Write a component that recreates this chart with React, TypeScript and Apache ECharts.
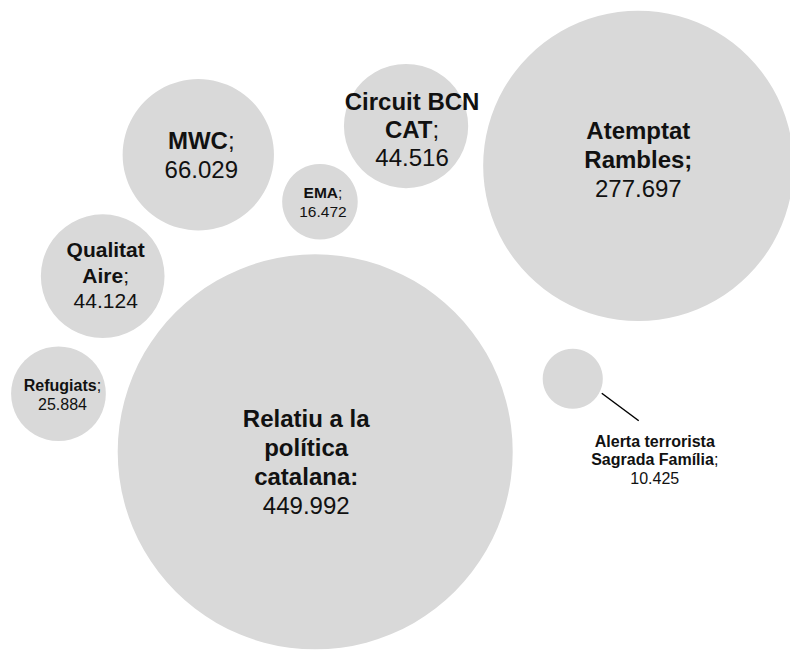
import React, { useEffect, useRef } from "react";
import * as echarts from "echarts";

// Bubble data (x, y position on hidden axes 0-100; value drives bubble area)
const names = [
  "Relatiu a la política catalana",
  "Atemptat Rambles",
  "MWC",
  "Circuit BCN CAT",
  "Qualitat Aire",
  "Refugiats",
  "EMA",
  "Alerta terrorista Sagrada Família",
];
const labelLines = [
  ["Relatiu a la", "política", "catalana:"],
  ["Atemptat", "Rambles;"],
  ["MWC"],
  ["Circuit BCN", "CAT"],
  ["Qualitat", "Aire"],
  ["Refugiats"],
  ["EMA"],
  ["Alerta terrorista", "Sagrada Família"],
];
const values = [449992, 277697, 66029, 44516, 44124, 25884, 16472, 10425];
const xValues = [39.9, 80.8, 25.1, 51.4, 13.0, 7.4, 40.5, 72.5];
const yValues = [30.8, 74.6, 76.3, 80.7, 57.7, 39.7, 69.1, 42.0];

// label styling (not data)
const labelFont = [24, 24, 24, 24, 21, 16, 15.5, 16];
const labelLH = [29, 29, 29, 28, 25.5, 19, 18.7, 18.5];
const labelOffset: [number, number][] = [
  [-9, 10],
  [0, -6],
  [3, 0],
  [6, 3],
  [3, -1],
  [4, 1.5],
  [3, 0],
  [82, 81],
];
// which names carry their own bold punctuation
const sepBoldIncluded = [true, true, false, false, false, false, false, false];

const MAX_DIAMETER = 395;
const maxValue = Math.max(...values);

function fmt(v: number): string {
  return String(v).replace(/\B(?=(\d{3})+(?!\d))/g, ".");
}

export default function App() {
  const ref = useRef<HTMLDivElement>(null);

  useEffect(() => {
    document.body.style.margin = "0";
    if (!ref.current) return;
    const chart = echarts.init(ref.current, undefined, { renderer: "svg" });

    const data = names.map((n, i) => {
      const lines = labelLines[i];
      const parts: string[] = [];
      lines.forEach((ln, j) => {
        const last = j === lines.length - 1;
        if (last && !sepBoldIncluded[i]) {
          parts.push(`{b|${ln}}{r|;}`);
        } else {
          parts.push(`{b|${ln}}`);
        }
      });
      parts.push(`{r|${fmt(values[i])}}`);
      const fs = labelFont[i];
      const lh = labelLH[i];
      return {
        name: n,
        value: [xValues[i], yValues[i], values[i]],
        label: {
          show: true,
          position: "inside",
          offset: labelOffset[i],
          formatter: parts.join("\n"),
          rich: {
            b: {
              fontFamily: "Liberation Sans, Arial, sans-serif",
              fontWeight: "bold",
              fontSize: fs,
              lineHeight: lh,
              color: "#111",
              align: "center",
            },
            r: {
              fontFamily: "Liberation Sans, Arial, sans-serif",
              fontWeight: "normal",
              fontSize: fs,
              lineHeight: lh,
              color: "#111",
              align: "center",
            },
          },
        },
      };
    });

    chart.setOption({
      animation: false,
      backgroundColor: "#ffffff",
      grid: { left: 0, right: 0, top: 0, bottom: 0, containLabel: false },
      xAxis: { type: "value", min: 0, max: 100, show: false },
      yAxis: { type: "value", min: 0, max: 100, show: false },
      series: [
        {
          type: "scatter",
          symbol: "circle",
          symbolSize: (val: number[]) =>
            MAX_DIAMETER * Math.sqrt(val[2] / maxValue),
          itemStyle: { color: "#d9d9d9", opacity: 1 },
          emphasis: { disabled: true },
          data,
        },
      ],
    });

    // leader line for the small "Alerta" bubble
    const idx = names.length - 1;
    const c = chart.convertToPixel({ seriesIndex: 0 }, [
      xValues[idx],
      yValues[idx],
    ]) as number[];
    if (c) {
      chart.setOption({
        graphic: [
          {
            type: "line",
            shape: { x1: c[0] + 29, y1: c[1] + 14.5, x2: c[0] + 66, y2: c[1] + 42 },
            style: { stroke: "#000", lineWidth: 1.5 },
            z: 10,
          },
        ],
      });
    }

    return () => chart.dispose();
  }, []);

  return <div ref={ref} style={{ width: 790, height: 653 }} />;
}
